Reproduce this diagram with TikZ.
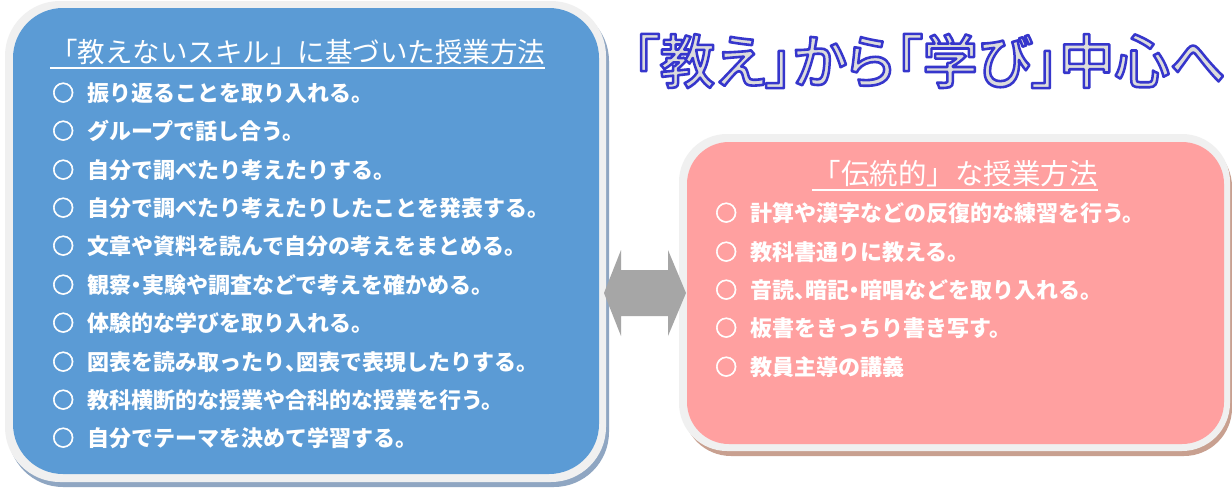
\documentclass[tikz,border=0pt]{standalone}
\usepackage{fontspec}
\usepackage{graphicx}
\newfontfamily\jp{Noto Sans CJK JP}
\IfFontExistsTF{Noto Sans CJK JP Medium}
  {\newfontfamily\jpt[RawFeature=+palt]{Noto Sans CJK JP Medium}\def\titlew{2.6}}
  {\newfontfamily\jpt[RawFeature=+palt]{Noto Sans CJK JP}\def\titlew{2.2}}
\usetikzlibrary{calc}
\definecolor{bluefill}{HTML}{5B9BD5}
\definecolor{pinkfill}{HTML}{FFA0A0}
\definecolor{rim}{HTML}{F0F0F0}
\definecolor{blueshadow}{HTML}{8FA6C2}
\definecolor{pinkshadow}{HTML}{C8A090}
\definecolor{arrowgray}{HTML}{A6A6A6}
\definecolor{titlegray}{HTML}{DCDCDC}
\newcommand{\hdot}{\makebox[0.5em][c]{・}}
\newcommand{\hcomma}{\makebox[0.5em][l]{、}}
\newcommand{\bul}{{\addfontfeature{FakeBold=2.5}○}\hspace{13pt}}
\newcommand{\outlined}[1]{\color{titlegray}\special{pdf:literal direct 0.21 0.21 0.8 RG 1 j \titlew\space w 2 Tr}#1\special{pdf:literal direct 0 Tr 1 w}}
\begin{document}
\begin{tikzpicture}[x=1pt,y=-1pt,
  item/.style={anchor=base west, inner sep=0pt, text=white, font=\jp\bfseries\fontsize{22}{22}\selectfont},
  boxtitle/.style={anchor=base, inner sep=0pt, text=white, font=\jp\fontsize{27.5}{27.5}\selectfont},
  uline/.style={draw=white, line width=2pt},
  bigtitle/.style={inner sep=0pt, font=\jpt\fontsize{58}{58}\selectfont},
  rimbox/.style={fill=rim},
]
\fill[white] (0,0) rectangle (1232,488);
\useasboundingbox (0,0) rectangle (1232,488);

% ---------- left box ----------
\fill[blueshadow, rounded corners=55pt] (8,6) rectangle (609,487);
\fill[rimbox, rounded corners=55pt] (5,1) rectangle (606,482);
\fill[bluefill, rounded corners=50pt] (13,8) rectangle (599,474);

\node[boxtitle] (ltitle) at (297.5,62.5) {「教えないスキル」に基づいた授業方法};
\draw[uline] ($(ltitle.base west)+(0,5.5)$) -- ($(ltitle.base east)+(0,5.5)$);

\node[item] (l1) at (52,101)  {\bul 振り返ることを取り入れる。};
\node[item] (l2) at (52,139) {\bul グループで話し合う。};
\node[item] (l3) at (52,178) {\bul 自分で調べたり考えたりする。};
\node[item] (l4) at (52,216) {\bul 自分で調べたり考えたりしたことを発表する。};
\node[item] (l5) at (52,254) {\bul 文章や資料を読んで自分の考えをまとめる。};
\node[item] (l6) at (52,293) {\bul 観察\hdot 実験や調査などで考えを確かめる。};
\node[item] (l7) at (52,331) {\bul 体験的な学びを取り入れる。};
\node[item] (l8) at (52,370) {\bul 図表を読み取ったり\hcomma 図表で表現したりする。};
\node[item] (l9) at (52,408) {\bul 教科横断的な授業や合科的な授業を行う。};
\node[item] (l10) at (52,446) {\bul 自分でテーマを決めて学習する。};

% ---------- right box ----------
\fill[pinkshadow, rounded corners=48pt] (683,139) rectangle (1232,456);
\fill[rimbox, rounded corners=48pt] (679,134) rectangle (1230,451);
\fill[pinkfill, rounded corners=42pt] (687,142) rectangle (1224,444);

\node[boxtitle, font=\jp\fontsize{28.5}{28.5}\selectfont] (rtitle) at (955,184) {「伝統的」な授業方法};
\draw[uline] ($(rtitle.base west)+(0,5.5)$) -- ($(rtitle.base east)+(0,5.5)$);

\node[item] (r1) at (715,221) {\bul 計算や漢字などの反復的な練習を行う。};
\node[item] (r2) at (715,260) {\bul 教科書通りに教える。};
\node[item] (r3) at (715,298) {\bul 音読\hcomma 暗記\hdot 暗唱などを取り入れる。};
\node[item] (r4) at (715,336) {\bul 板書をきっちり書き写す。};
\node[item] (r5) at (715,375) {\bul 教員主導の講義};

% ---------- double arrow ----------
\fill[arrowgray] (604,293) -- (621,250) -- (621,270) -- (668,270) -- (668,250)
  -- (686,293) -- (668,336) -- (668,316) -- (621,316) -- (621,336) -- cycle;

% ---------- main title ----------
\node[bigtitle] (title) at (929,61)
  {\outlined{\resizebox{594pt}{\height}{「教え」から「学び」中心へ}}};
\end{tikzpicture}
\end{document}
